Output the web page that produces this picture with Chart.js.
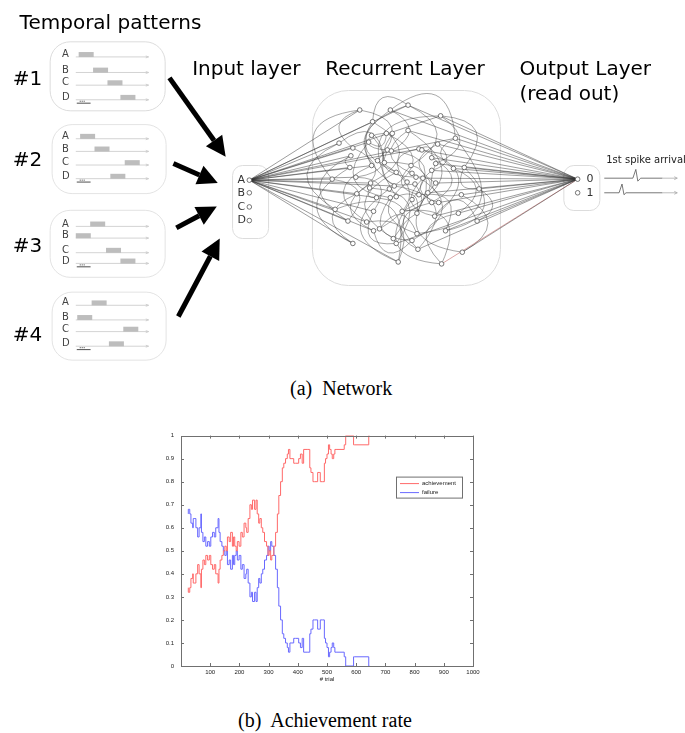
<!DOCTYPE html>
<html>
<head>
<meta charset="utf-8">
<script src="https://cdn.jsdelivr.net/npm/chart.js@4.4.0/dist/chart.umd.min.js"></script>
<style>
  html, body { margin: 0; padding: 0; background: #fff; width: 685px; height: 733px; overflow: hidden; }
  #net { position: absolute; left: 0; top: 0; }
  #rate { position: absolute; left: 150px; top: 425px; }
  .cap { position: absolute; font-family: "Liberation Serif", "Times New Roman", serif; font-size: 20px; line-height: 20px; color: #000; white-space: pre; }
</style>
</head>
<body>
<canvas id="net" width="685" height="370"></canvas>
<div class="cap" style="left:290px; top:378px">(a)  Network</div>
<canvas id="rate" width="340" height="270"></canvas>
<div class="cap" style="left:238px; top:710px">(b)  Achievement rate</div>

<script>
// ========== DATA: achievement rate ==========
const trials = [
  25, 30, 34, 40, 42, 45, 51, 57, 62, 68,
  70, 75, 80, 85, 91, 97, 102, 108, 114, 119,
  127, 130, 134, 140, 145, 150, 155, 159, 165, 170,
  176, 180, 184, 189, 193, 199, 205, 210, 216, 222,
  225, 230, 236, 241, 245, 252, 257, 261, 266, 270,
  275, 280, 286, 293, 298, 302, 307, 311, 318, 324,
  330, 335, 341, 347, 352, 358, 364, 368, 373, 377,
  386, 392, 403, 409, 415, 420, 432, 441, 445, 452,
  457, 468, 473, 477, 484, 491, 495, 500, 505, 509,
  514, 518, 523, 527, 534, 559, 564, 568, 591, 595,
  643, 645
];
const achievement = [
  .34, .32, .34, .38, .40, .36, .36, .40, .44, .40,
  .34, .42, .46, .44, .48, .46, .48, .44, .42, .44,
  .40, .36, .42, .46, .48, .50, .52, .50, .56, .54,
  .58, .52, .56, .52, .50, .54, .52, .58, .56, .62,
  .60, .58, .64, .70, .68, .72, .68, .72, .66, .62,
  .64, .60, .58, .54, .52, .48, .50, .46, .48, .52,
  .58, .66, .74, .80, .86, .88, .90, .92, .94, .90,
  .90, .88, .88, .90, .92, .88, .94, .94, .86, .84,
  .80, .80, .84, .84, .80, .80, .88, .90, .92, .96,
  .94, .92, .90, .92, .94, .94, .96, 1, 1, .96,
  .96, 1
];
const failure = [
  .66, .68, .66, .62, .60, .64, .64, .60, .56, .60,
  .66, .58, .54, .56, .52, .54, .52, .56, .58, .56,
  .60, .64, .58, .54, .52, .50, .48, .50, .44, .46,
  .42, .48, .44, .48, .50, .46, .48, .42, .44, .38,
  .40, .42, .36, .30, .32, .28, .32, .28, .34, .38,
  .36, .40, .42, .46, .48, .52, .50, .54, .52, .48,
  .42, .34, .26, .20, .14, .12, .10, .08, .06, .10,
  .10, .12, .12, .10, .08, .12, .06, .06, .14, .16,
  .20, .20, .16, .16, .20, .20, .12, .10, .08, .04,
  .06, .08, .10, .08, .06, .06, .04, 0, 0, .04,
  .04, 0
];
const seriesNames = ['achievement', 'failure'];
const xTicks = [100, 200, 300, 400, 500, 600, 700, 800, 900, 1000];
const yTicks = [0, 0.1, 0.2, 0.3, 0.4, 0.5, 0.6, 0.7, 0.8, 0.9, 1];

// ========== DATA: network sketch ==========
const patternNames = ['#1', '#2', '#3', '#4'];
const channels = ['A', 'B', 'C', 'D'];
// onset of each channel's burst, per pattern
const patternOnsets = [[2, 12, 22, 31], [3, 13, 34, 24], [10, 0, 21, 31], [11, 1, 33, 23]];
const outputs = ['0', '1'];
const layerTitles = ['Input layer', 'Recurrent Layer', 'Output Layer', '(read out)'];

// reservoir neurons (diagram coordinates)
const neurons = [
  [360,108],[391,108],[409,103],[442,114],[373,120],[387,132],[393,132],[372,134],[409,129],[457,137],
  [339,142],[369,141],[353,147],[388,149],[392,150],[420,148],[423,149],[439,143],[351,155],[378,160],
  [372,165],[385,162],[412,165],[433,157],[437,163],[455,168],[466,167],[350,167],[356,177],[397,172],
  [413,173],[433,170],[332,179],[371,183],[370,188],[390,189],[395,186],[408,182],[417,177],[424,178],
  [416,184],[437,183],[481,189],[357,194],[377,198],[391,198],[397,197],[413,200],[420,195],[429,193],
  [463,195],[433,203],[440,203],[335,210],[374,212],[403,212],[418,214],[436,217],[460,214],[348,222],
  [367,223],[374,232],[380,230],[394,240],[397,245],[413,242],[418,235],[447,232],[479,222],[353,245],
  [419,251],[464,254],[399,264],[443,266]
];
const inputTargets = [0, 2, 3, 4, 10, 12, 18, 11, 27, 32, 28, 33, 43, 53, 59, 60, 69, 72, 44, 54, 61, 20, 36, 15, 9];
const outputSources = [3, 9, 17, 25, 26, 42, 50, 58, 68, 71, 67, 57, 41, 31, 24, 16, 1, 2, 8, 23, 52, 49, 39, 64, 70];
const recurrentEdges = [
  [0,19],[0,32],[1,14],[1,29],[2,22],[2,36],[3,24],[3,46],[4,33],[4,13],[5,35],[6,38],[7,28],[8,30],[8,55],
  [9,25],[9,66],[10,53],[10,21],[11,45],[12,43],[13,40],[14,47],[15,37],[16,57],[17,41],[17,31],[18,59],
  [19,62],[20,60],[21,56],[22,48],[23,51],[24,50],[25,58],[26,42],[26,67],[27,69],[28,54],[29,63],[30,65],
  [31,52],[32,59],[33,61],[34,64],[35,72],[36,70],[37,66],[38,49],[39,57],[40,55],[41,71],[42,68],[43,69],
  [44,63],[45,65],[46,56],[47,73],[48,67],[49,52],[50,71],[51,70],[53,72],[54,64],[55,73],[56,70],[57,68],
  [58,73],[60,72],[61,65],[62,66],[2,4],[1,9],[0,12],[3,26],[6,20],[15,23],[34,44],[27,18],[11,5]
];

// ========== LAYOUT (diagram) ==========
const inputPos = [[248,180],[248,193],[248,207.5],[248,221.5]];
const outputPos = [[581,179],[581,193]];
const boxes = [[46,38,115,69],[48,123,114,69],[46,211,115,67],[48,295,114,68]];
const rowYs = [[51,67,80,95],[135,148,162,176],[225,237,252,263],[306,321,333,348]];
const labelYs = [82,165,254,345];
const bigArrows = [[167,75,224,156],[171,163,216,183],[174,229,215,207],[176,320,218,240]];

function rrect(ctx, x, y, w, h, r) {
  ctx.beginPath();
  ctx.moveTo(x + r, y);
  ctx.arcTo(x + w, y, x + w, y + h, r);
  ctx.arcTo(x + w, y + h, x, y + h, r);
  ctx.arcTo(x, y + h, x, y, r);
  ctx.arcTo(x, y, x + w, y, r);
  ctx.closePath();
}

const networkSketch = {
  id: 'networkSketch',
  beforeDatasetsDraw(chart) {
    const ctx = chart.ctx;
    const X = v => chart.scales.x.getPixelForValue(v);
    const Y = v => chart.scales.y.getPixelForValue(v);
    ctx.save();

    // titles
    ctx.fillStyle = '#000';
    ctx.font = '20px "DejaVu Sans"';
    ctx.textBaseline = 'alphabetic';
    ctx.fillText('Temporal patterns', X(15), Y(25));
    ctx.fillText(layerTitles[0], X(190), Y(72));
    ctx.fillText(layerTitles[1], X(325), Y(72));
    ctx.fillText(layerTitles[2], X(522), Y(72));
    ctx.fillText(layerTitles[3], X(522), Y(98));
    patternNames.forEach((n, i) => ctx.fillText(n, X(8), Y(labelYs[i])));

    // pattern boxes
    ctx.lineWidth = 1;
    patternNames.forEach((n, i) => {
      const [bx, by, bw, bh] = boxes[i];
      ctx.strokeStyle = '#dcdcdc';
      rrect(ctx, X(bx), Y(by), bw, bh, 20);
      ctx.stroke();
      ctx.font = '10px "DejaVu Sans"';
      ctx.textBaseline = 'middle';
      channels.forEach((c, j) => {
        const ry = rowYs[i][j];
        ctx.fillStyle = '#444';
        ctx.fillText(c, X(58), Y(ry));
        ctx.strokeStyle = '#c8c8c8';
        ctx.lineWidth = 0.8;
        ctx.beginPath(); ctx.moveTo(X(72), Y(ry + 2.5)); ctx.lineTo(X(145), Y(ry + 2.5)); ctx.stroke();
        ctx.beginPath(); ctx.moveTo(X(143), Y(ry + 1.5)); ctx.lineTo(X(146), Y(ry + 2.5)); ctx.lineTo(X(143), Y(ry + 3.5)); ctx.stroke();
        ctx.fillStyle = '#bdbdbd';
        ctx.fillRect(X(72 + patternOnsets[i][j] * 1.46), Y(ry - 2.5), 15, 5);
      });
      // time scale bar
      const sy = rowYs[i][3] + 6;
      ctx.strokeStyle = '#222'; ctx.lineWidth = 0.8;
      ctx.beginPath(); ctx.moveTo(X(73), Y(sy)); ctx.lineTo(X(87), Y(sy)); ctx.stroke();
      ctx.fillStyle = '#444';
      ctx.fillRect(X(76), Y(sy - 2.5), 1, 1); ctx.fillRect(X(78), Y(sy - 2.5), 1, 1); ctx.fillRect(X(80), Y(sy - 2.5), 1, 1);
    });

    // big arrows
    ctx.fillStyle = '#000'; ctx.strokeStyle = '#000';
    bigArrows.forEach(([x1, y1, x2, y2]) => {
      const a = Math.atan2(Y(y2) - Y(y1), X(x2) - X(x1)), hl = 20, hw = 10;
      const bx = X(x2) - hl * Math.cos(a), by = Y(y2) - hl * Math.sin(a);
      ctx.lineWidth = 5;
      ctx.beginPath(); ctx.moveTo(X(x1), Y(y1)); ctx.lineTo(bx, by); ctx.stroke();
      ctx.beginPath(); ctx.moveTo(X(x2), Y(y2));
      ctx.lineTo(bx + hw * Math.sin(a), by - hw * Math.cos(a));
      ctx.lineTo(bx - hw * Math.sin(a), by + hw * Math.cos(a));
      ctx.closePath(); ctx.fill();
    });

    // layer boxes
    ctx.strokeStyle = '#dcdcdc'; ctx.lineWidth = 1;
    rrect(ctx, X(231), Y(165), 36, 73, 10); ctx.stroke();
    rrect(ctx, X(312), Y(88), 188, 195, 36); ctx.stroke();
    rrect(ctx, X(567), Y(165), 36, 45, 10); ctx.stroke();

    // recurrent connections
    ctx.strokeStyle = 'rgba(60,60,60,0.75)'; ctx.lineWidth = 0.6;
    ctx.beginPath();
    recurrentEdges.forEach(([p, q], k) => {
      const [x1, y1] = neurons[p], [x2, y2] = neurons[q];
      const s = (k % 2 ? 1 : -1) * 0.9;
      const cx = (x1 + x2) / 2 - (y2 - y1) * s, cy = (y1 + y2) / 2 + (x2 - x1) * s;
      ctx.moveTo(X(x1), Y(y1));
      ctx.quadraticCurveTo(X(cx), Y(cy), X(x2), Y(y2));
    });
    ctx.stroke();

    // input / output labels
    ctx.fillStyle = '#333'; ctx.font = '11px "DejaVu Sans"'; ctx.textBaseline = 'middle';
    channels.forEach((c, j) => ctx.fillText(c, X(236), Y(inputPos[j][1])));
    outputs.forEach((o, j) => ctx.fillText(o, X(590), Y(outputPos[j][1])));

    // spike traces
    ctx.font = '10px "DejaVu Sans"'; ctx.fillStyle = '#222';
    ctx.fillText('1st spike arrival', X(610), Y(160));
    const traces = [[[608,178],[637,178],[640,169],[642,181],[645,178],[667,178]],
                    [[608,193],[623,193],[626,184],[628,195],[630,193],[667,193]]];
    traces.forEach(tr => {
      ctx.strokeStyle = '#555'; ctx.lineWidth = 0.8;
      ctx.beginPath();
      tr.forEach(([x, y], i) => i ? ctx.lineTo(X(x), Y(y)) : ctx.moveTo(X(x), Y(y)));
      ctx.stroke();
      const ty = tr[0][1];
      ctx.strokeStyle = '#aaa';
      ctx.beginPath(); ctx.moveTo(X(667), Y(ty)); ctx.lineTo(X(682), Y(ty));
      ctx.moveTo(X(679), Y(ty - 1.5)); ctx.lineTo(X(682), Y(ty)); ctx.lineTo(X(679), Y(ty + 1.5)); ctx.stroke();
    });
    ctx.restore();
  }
};

const inA = inputPos[0], out0 = outputPos[0];
const fanLine = (a, b, color) => ({
  data: [{ x: a[0], y: a[1] }, { x: b[0], y: b[1] }],
  showLine: true, pointRadius: 0, borderColor: color, borderWidth: 0.6
});

new Chart(document.getElementById('net'), {
  type: 'scatter',
  data: {
    datasets: [
      {
        data: neurons.concat(inputPos, outputPos).map(([x, y]) => ({ x, y })),
        pointRadius: 2.3, pointBackgroundColor: '#fff', pointBorderColor: '#555', pointBorderWidth: 0.8
      },
      ...inputTargets.map(i => fanLine(inA, neurons[i], 'rgba(50,50,50,0.8)')),
      ...outputSources.map(i => fanLine(neurons[i], out0, 'rgba(50,50,50,0.8)')),
      fanLine(neurons[73], out0, 'rgba(190,90,90,0.9)')
    ]
  },
  options: {
    responsive: false, animation: false, events: [],
    layout: { padding: 0 },
    scales: {
      x: { type: 'linear', min: 0, max: 685, display: false },
      y: { type: 'linear', min: 0, max: 370, reverse: true, display: false }
    },
    plugins: { legend: { display: false }, tooltip: { enabled: false } }
  },
  plugins: [networkSketch]
});

// ========== ACHIEVEMENT RATE ==========
const seriesColors = ['rgb(255,105,105)', 'rgb(105,105,255)'];

const matlabAxes = {
  id: 'matlabAxes',
  afterDraw(chart) {
    const { ctx, chartArea: a, scales: { x, y } } = chart;
    ctx.save();
    ctx.strokeStyle = '#707070'; ctx.lineWidth = 1;
    ctx.strokeRect(Math.round(a.left) + 0.5, Math.round(a.top) + 0.5, Math.round(a.right - a.left), Math.round(a.bottom - a.top));
    ctx.beginPath();
    xTicks.forEach(v => {
      const px = Math.round(x.getPixelForValue(v)) + 0.5;
      ctx.moveTo(px, a.bottom); ctx.lineTo(px, a.bottom - 3);
      ctx.moveTo(px, a.top); ctx.lineTo(px, a.top + 3);
    });
    yTicks.forEach(v => {
      const py = Math.round(y.getPixelForValue(v)) + 0.5;
      ctx.moveTo(a.left, py); ctx.lineTo(a.left + 3, py);
      ctx.moveTo(a.right, py); ctx.lineTo(a.right - 3, py);
    });
    ctx.stroke();

    // legend box
    const lx = a.right - 77, ly = a.top + 41;
    ctx.fillStyle = '#fff';
    ctx.fillRect(lx, ly, 66, 21);
    ctx.strokeStyle = '#707070';
    ctx.strokeRect(lx + 0.5, ly + 0.5, 66, 21);
    ctx.font = '6px "Liberation Sans"'; ctx.textBaseline = 'middle'; ctx.fillStyle = '#222';
    chart.data.datasets.forEach((ds, i) => {
      const yy = ly + 7 + i * 9;
      ctx.strokeStyle = ds.borderColor; ctx.lineWidth = 1;
      ctx.beginPath(); ctx.moveTo(lx + 4, yy); ctx.lineTo(lx + 23, yy); ctx.stroke();
      ctx.fillText(ds.label, lx + 26, yy);
    });
    ctx.restore();
  }
};

new Chart(document.getElementById('rate'), {
  type: 'line',
  data: {
    datasets: [achievement, failure].map((vals, i) => ({
      label: seriesNames[i],
      data: trials.map((t, k) => ({ x: t, y: vals[k] })),
      borderColor: seriesColors[i], borderWidth: 1, pointRadius: 0,
      stepped: 'after', fill: false
    }))
  },
  options: {
    responsive: false, animation: false, events: [],
    layout: { padding: { left: 0, right: 17, top: 9, bottom: 12 } },
    scales: {
      x: {
        type: 'linear', min: 0, max: 1000,
        afterBuildTicks: s => { s.ticks = xTicks.map(v => ({ value: v })); },
        afterFit: s => { s.height = 17; },
        grid: { display: false, drawTicks: false },
        border: { display: false },
        ticks: { font: { family: 'Liberation Sans', size: 6 }, color: '#222', padding: 3, maxRotation: 0, callback: v => String(v) },
        title: { display: true, text: '# trial', font: { family: 'Liberation Sans', size: 6 }, color: '#222', padding: 0 }
      },
      y: {
        min: 0, max: 1,
        afterBuildTicks: s => { s.ticks = yTicks.map(v => ({ value: v })); },
        afterFit: s => { s.width = 31; },
        grid: { display: false, drawTicks: false },
        border: { display: false },
        ticks: { font: { family: 'Liberation Sans', size: 6 }, color: '#222', padding: 7, callback: v => String(Math.round(v * 10) / 10) }
      }
    },
    plugins: { legend: { display: false }, tooltip: { enabled: false } }
  },
  plugins: [matlabAxes]
});
</script>
</body>
</html>
